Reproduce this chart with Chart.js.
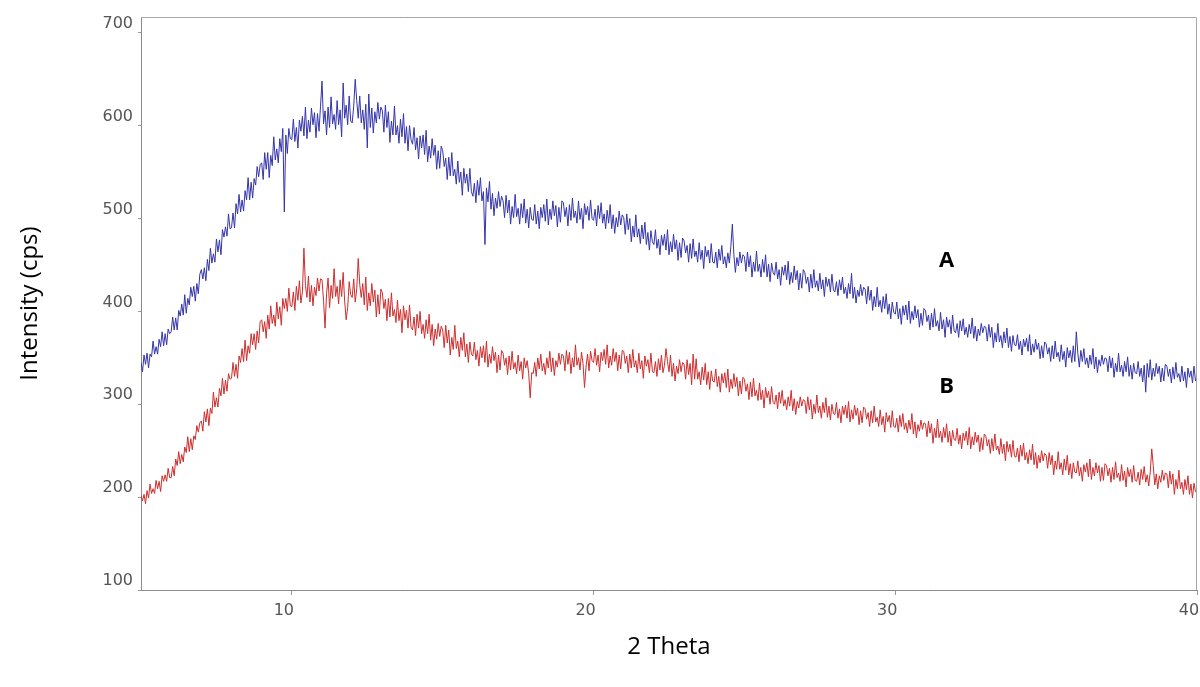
<!DOCTYPE html>
<html><head><meta charset="utf-8">
<script src="https://cdn.jsdelivr.net/npm/chart.js@4.4.0/dist/chart.umd.min.js"></script>
<style>html,body{margin:0;padding:0;background:#fff}</style>
</head><body>
<canvas id="c" width="1200" height="687"></canvas>
<script>
// 2-theta scan grid (degrees)
const thetaStart = 5.0;
const thetaStep = 0.05;

// Sample A (blue), one value per 0.05 deg from 5.00 to 40.00
const intensityA = [
345,335,353,343,355,339,354,351,368,354,362,354,370,362,378,363,376,364,381,376,
378,394,380,393,380,401,395,408,396,418,398,414,407,426,416,427,411,430,419,440,
445,435,447,433,456,444,468,452,462,453,478,464,477,461,488,480,491,481,505,489,
490,506,490,516,505,526,507,520,508,530,520,544,520,539,522,543,536,556,545,558,
560,542,571,553,571,544,568,557,588,563,575,560,586,572,597,507,590,570,597,586,
585,607,583,598,576,606,594,610,589,620,586,606,593,619,601,614,587,613,594,621,
648,602,616,590,620,598,631,602,612,596,627,601,617,588,646,608,622,601,632,605,
603,621,650,627,608,632,603,617,596,623,576,634,598,619,592,615,603,625,607,620,
616,593,622,598,615,582,605,590,621,590,600,581,607,588,613,581,599,573,600,585,
580,598,574,587,564,589,576,590,569,595,561,578,565,586,568,579,553,573,554,578,
573,556,565,542,566,546,571,546,553,537,562,539,550,525,554,538,548,529,554,529,
524,538,517,541,525,544,519,529,472,533,518,540,510,527,503,522,511,529,513,524,
519,501,525,506,520,494,513,501,526,502,511,494,516,501,521,495,510,490,512,499,
498,515,494,508,489,512,501,515,497,521,493,510,499,519,503,514,491,512,496,519,
517,502,512,492,515,498,522,501,508,495,519,499,511,489,516,504,513,498,520,500,
498,510,492,514,500,517,495,505,489,509,495,515,489,504,484,501,491,508,493,504,
501,483,505,488,500,475,492,480,504,480,489,473,493,478,496,472,485,466,487,475,
472,488,468,478,461,482,471,483,466,488,461,475,464,483,467,477,455,474,458,479,
476,463,471,453,473,457,478,459,465,453,474,456,466,446,470,459,466,452,473,453,
452,464,447,467,455,471,451,459,447,463,452,470,494,461,442,458,449,464,452,461,
459,443,464,448,460,437,453,443,465,443,451,437,456,442,461,437,451,432,452,442,
439,453,435,445,428,448,439,450,434,454,429,442,431,449,434,444,423,441,425,445,
442,430,437,421,440,425,445,426,433,422,441,424,434,416,437,427,435,421,440,423,
421,432,417,434,423,437,419,426,414,430,419,441,414,426,409,423,416,429,417,426,
424,408,427,412,423,401,416,405,426,405,412,399,416,403,419,397,408,392,410,399,
397,410,392,403,386,406,396,407,391,411,387,400,391,406,393,402,383,398,385,403,
401,389,396,380,398,383,403,384,390,379,399,381,391,372,394,383,391,376,396,379,
377,387,372,390,379,392,375,383,372,386,376,393,371,384,368,381,374,387,377,384,
383,368,386,372,383,361,377,367,387,367,374,361,378,366,382,361,373,357,374,364,
363,375,359,368,353,370,362,371,357,375,353,365,356,370,359,366,349,363,350,367,
365,354,361,346,363,349,368,351,356,346,364,348,357,340,361,350,358,345,363,346,
378,355,340,358,346,360,343,350,339,353,343,360,338,351,334,348,341,353,343,350,
349,335,352,339,350,329,344,335,355,335,342,330,346,335,351,330,342,327,344,334,
333,346,330,339,324,342,313,344,329,348,326,339,330,344,333,341,324,339,325,343,
341,330,338,323,340,327,345,329,333,324,341,325,335,318,339,329,336,323,341,325,
331
];

// Sample B (red), same grid
const intensityB = [
202,196,203,193,207,199,214,204,209,204,218,209,217,206,223,217,224,217,231,221,
221,233,223,241,234,249,236,246,238,254,248,265,249,263,251,266,262,277,270,280,
282,271,292,281,295,277,296,290,313,297,307,297,317,309,328,311,326,314,333,327,
328,345,330,343,328,352,345,360,346,369,347,363,355,376,364,376,359,379,366,389,
391,378,389,371,396,381,406,387,396,384,410,392,405,385,414,403,414,400,425,406,
405,421,401,427,412,433,409,421,468,428,415,438,410,428,406,426,417,436,422,435,
434,412,382,419,436,404,428,414,446,416,427,408,434,416,442,411,391,404,432,418,
415,435,410,424,457,429,415,430,407,437,401,420,406,430,410,423,394,418,397,424,
420,403,413,390,414,394,420,395,402,388,412,390,402,377,406,391,401,382,407,383,
380,394,374,397,382,400,376,386,371,391,376,397,369,386,363,381,370,387,373,384,
380,361,385,366,380,353,372,359,385,360,368,351,372,358,377,351,365,345,367,354,
352,367,348,358,341,362,350,363,345,368,340,354,344,362,347,356,334,353,337,358,
355,342,350,332,352,337,357,338,345,333,353,336,346,327,350,339,347,333,307,334,
333,345,330,350,338,354,336,344,332,350,339,357,335,350,331,347,340,355,343,354,
352,336,358,343,356,333,350,340,364,342,350,337,356,344,318,340,354,336,357,347,
345,360,342,353,335,356,347,359,343,364,339,352,342,360,346,356,336,353,338,358,
357,344,352,334,354,339,359,340,347,334,355,338,347,328,352,341,348,334,355,335,
334,346,330,349,337,353,334,342,360,346,335,353,330,344,325,341,333,348,335,345,
343,327,348,332,344,321,354,327,349,327,335,321,340,326,344,321,335,316,336,325,
324,338,319,330,313,333,323,334,318,338,313,327,317,333,319,329,309,325,311,329,
327,314,322,305,324,308,328,309,315,304,323,305,315,296,318,307,314,300,319,302,
300,310,295,313,301,315,298,305,294,308,298,315,293,306,289,303,296,308,298,305,
304,290,308,294,305,284,300,290,310,291,298,285,302,291,307,286,298,283,300,290,
289,302,285,295,280,298,289,299,285,303,281,294,284,299,288,296,278,293,280,297,
295,284,291,276,293,280,298,281,286,276,294,278,287,270,291,281,288,275,293,276,
275,285,270,288,276,290,273,280,269,283,273,290,268,281,264,278,271,283,273,280,
279,265,282,269,279,258,274,264,284,264,271,259,275,264,279,259,271,255,272,262,
261,274,257,267,252,269,261,271,256,275,252,265,256,270,259,267,249,264,251,268,
266,255,262,247,263,250,268,251,255,246,263,247,257,239,260,249,257,243,261,244,
243,253,238,256,244,258,240,248,236,251,240,257,235,248,231,245,237,250,239,247,
245,231,248,235,245,224,239,230,249,230,237,224,241,229,245,224,236,220,237,227,
226,239,223,232,217,235,227,237,222,241,219,232,223,237,226,234,217,232,218,236,
234,223,231,216,232,219,238,221,226,217,235,218,228,211,232,222,230,216,234,218,
217,227,213,230,219,233,216,224,212,227,252,234,213,225,209,223,216,229,218,226,
225,210,228,214,225,203,219,209,229,209,216,203,219,208,223,203,214,199,215,206,
207
];

const xTickValues = [10, 20, 30, 40];
const yTickValues = [100, 200, 300, 400, 500, 600, 700];
const seriesNames = ['A', 'B'];
const xTitle = '2 Theta';
const yTitle = 'Intensity (cps)';

function toPoints(arr) {
  return arr.map((v, i) => ({ x: Math.round((thetaStart + i * thetaStep) * 100) / 100, y: v }));
}

const framePlugin = {
  id: 'frame',
  afterDraw(chart) {
    const { ctx, chartArea: a, scales } = chart;
    ctx.save();
    ctx.strokeStyle = '#a8a8a8';
    ctx.lineWidth = 1;
    ctx.beginPath();
    ctx.moveTo(a.left, a.top + 0.5);
    ctx.lineTo(a.right - 0.5, a.top + 0.5);
    ctx.lineTo(a.right - 0.5, a.bottom);
    ctx.stroke();
    // series letters
    ctx.fillStyle = '#000';
    ctx.font = 'bold 22px "Open Sans", "Liberation Sans", sans-serif';
    ctx.textAlign = 'center';
    ctx.textBaseline = 'middle';
    const xs = scales.x, ys = scales.y;
    ctx.fillText(seriesNames[0], xs.getPixelForValue(31.7), ys.getPixelForValue(455));
    ctx.fillText(seriesNames[1], xs.getPixelForValue(31.7), ys.getPixelForValue(319));
    ctx.restore();
  }
};

new Chart(document.getElementById('c'), {
  type: 'line',
  data: {
    datasets: [
      { label: seriesNames[0], data: toPoints(intensityA), borderColor: 'rgb(52,52,170)', borderWidth: 1, pointRadius: 0, tension: 0 },
      { label: seriesNames[1], data: toPoints(intensityB), borderColor: 'rgb(205,45,45)', borderWidth: 1, pointRadius: 0, tension: 0 }
    ]
  },
  options: {
    responsive: false,
    animation: false,
    layout: { padding: { top: 17, right: 3, left: 0, bottom: 0 } },
    plugins: { legend: { display: false }, tooltip: { enabled: false } },
    scales: {
      x: {
        type: 'linear',
        min: 5, max: 40,
        afterFit(s) { s.height = 97; s.paddingLeft = 0; s.paddingRight = 0; },
        afterBuildTicks(s) { s.ticks = xTickValues.map(v => ({ value: v })); },
        grid: { drawOnChartArea: false, drawTicks: true, tickLength: 5, color: '#999' },
        border: { display: true, color: '#8a8a8a', width: 1 },
        ticks: { color: '#555', font: { family: 'DejaVu Sans', size: 16 }, padding: 6, labelOffset: -8, maxRotation: 0 },
        title: { display: true, text: xTitle, color: '#000', font: { family: 'Open Sans', size: 24 }, padding: { top: 0, bottom: 25 } }
      },
      y: {
        type: 'linear',
        min: 100, max: 717,
        afterFit(s) { s.width = 141; },
        afterBuildTicks(s) { s.ticks = yTickValues.map(v => ({ value: v })); },
        grid: { drawOnChartArea: false, drawTicks: true, tickLength: 3, color: '#999' },
        border: { display: true, color: '#8a8a8a', width: 1 },
        ticks: { color: '#555', font: { family: 'DejaVu Sans', size: 16 }, padding: 5, labelOffset: -9 },
        title: { display: true, text: yTitle, color: '#000', font: { family: 'Open Sans', size: 24 }, padding: { top: 16, bottom: 0 } }
      }
    }
  },
  plugins: [framePlugin]
});
</script>
</body></html>
